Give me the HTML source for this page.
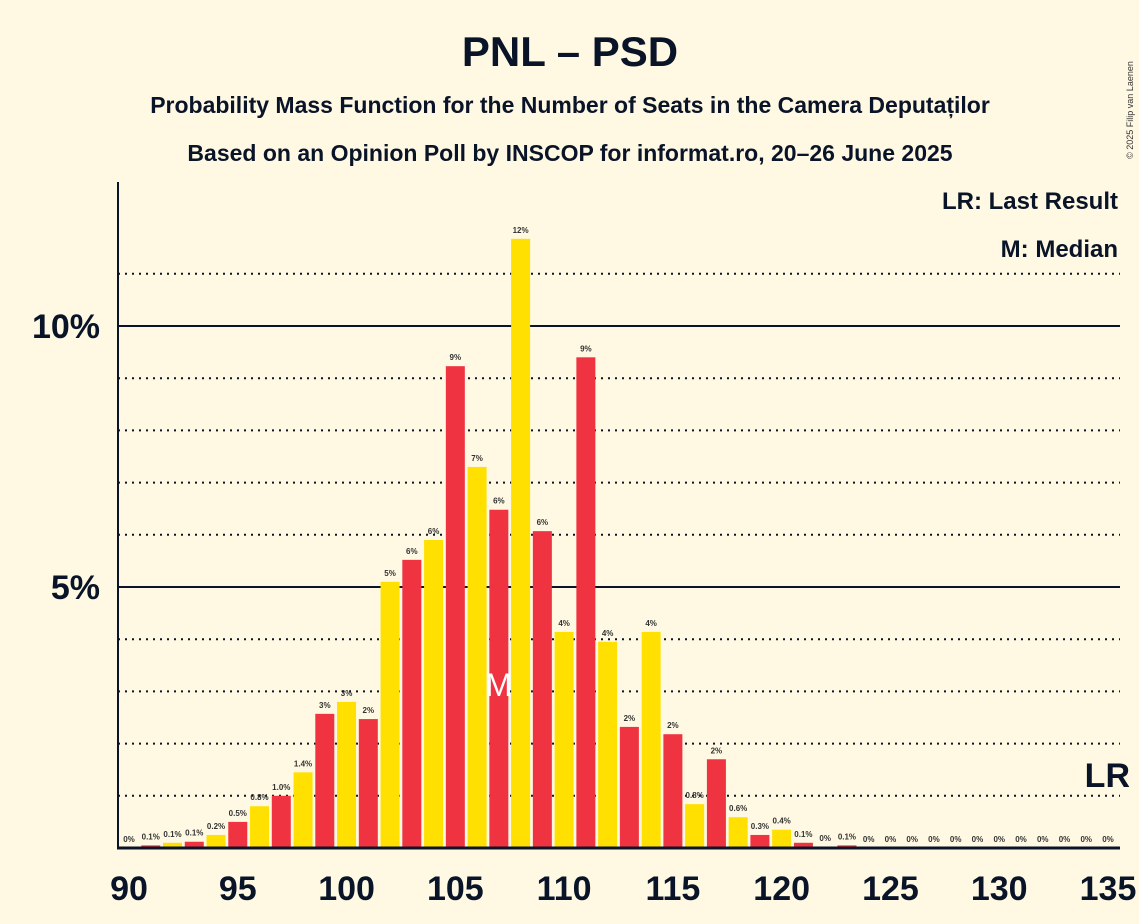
<!DOCTYPE html>
<html><head><meta charset="utf-8"><style>
body{margin:0;background:#FFF9E3;font-family:"Liberation Sans",sans-serif}
</style></head><body>
<svg width="1139" height="924" xmlns="http://www.w3.org/2000/svg" style="display:block">
<rect width="1139" height="924" fill="#FFF9E3"/>
<text x="570" y="66" text-anchor="middle" font-size="42" font-weight="bold" fill="#0a1428">PNL – PSD</text>
<text x="570" y="113" text-anchor="middle" font-size="23" font-weight="bold" fill="#0a1428">Probability Mass Function for the Number of Seats in the Camera Deputaților</text>
<text x="570" y="161" text-anchor="middle" font-size="23" font-weight="bold" fill="#0a1428">Based on an Opinion Poll by INSCOP for informat.ro, 20–26 June 2025</text>
<text x="1133" y="110" font-size="9" fill="#333" transform="rotate(-90 1133 110)" text-anchor="middle">© 2025 Filip van Laenen</text>
<text x="1118" y="209" text-anchor="end" font-size="24" font-weight="bold" fill="#0a1428">LR: Last Result</text>
<text x="1118" y="257" text-anchor="end" font-size="24" font-weight="bold" fill="#0a1428">M: Median</text>
<g id="grid"></g>
<g id="bars"></g>
<g id="labels"></g>
<line x1="118" y1="182" x2="118" y2="849" stroke="#0a1428" stroke-width="2"/>
<line x1="117" y1="848" x2="1120" y2="848" stroke="#0a1428" stroke-width="3"/>
<g id="ticks"></g>
</svg>
<script>
const seats=[90,91,92,93,94,95,96,97,98,99,100,101,102,103,104,105,106,107,108,109,110,111,112,113,114,115,116,117,118,119,120,121,122,123,124,125,126,127,128,129,130,131,132,133,134,135];
const probs=[0,0.05,0.1,0.12,0.25,0.5,0.8,1.0,1.45,2.57,2.8,2.47,5.1,5.52,5.9,9.23,7.3,6.48,11.67,6.07,4.14,9.4,3.95,2.32,4.14,2.18,0.84,1.7,0.59,0.25,0.35,0.1,0.02,0.05,0,0,0,0,0,0,0,0,0,0,0,0];
const printed=["0%","0.1%","0.1%","0.1%","0.2%","0.5%","0.8%","1.0%","1.4%","3%","3%","2%","5%","6%","6%","9%","7%","6%","12%","6%","4%","9%","4%","2%","4%","2%","0.8%","2%","0.6%","0.3%","0.4%","0.1%","0%","0.1%","0%","0%","0%","0%","0%","0%","0%","0%","0%","0%","0%","0%"];
const xTicks=[90,95,100,105,110,115,120,125,130,135];
const yTicks=[5,10];
const gridVals=[1,2,3,4,6,7,8,9,11];
const median=107, lastResult=135;
const NS="http://www.w3.org/2000/svg";
const X=s=>129+(s-90)*(1108-129)/45;
const Y=v=>848-v*52.2;
function mk(t,a,p){const e=document.createElementNS(NS,t);for(const k in a)e.setAttribute(k,a[k]);p.appendChild(e);return e;}
const grid=document.getElementById('grid');
gridVals.forEach(v=>{const l=mk('line',{x1:118,x2:1120,y1:Y(v),y2:Y(v),stroke:'#0a1428','stroke-width':2,'stroke-dasharray':'2,5'},grid);

});
yTicks.forEach(v=>{const l=mk('line',{x1:118,x2:1120,y1:Y(v),y2:Y(v),stroke:'#0a1428','stroke-width':2},grid);


const t=mk('text',{x:100,y:Y(v)+12,'text-anchor':'end','font-size':34,'font-weight':'bold',fill:'#0a1428'},grid);t.textContent=v+'%';

});
const bars=document.getElementById('bars'),labels=document.getElementById('labels');
seats.forEach((s,i)=>{const v=probs[i];const h=848-Y(v);
if(h>0){const r=mk('rect',{x:X(s)-9.5,y:Y(v),width:19,height:h,fill:s%2?'#EF3340':'#FFE000'},bars);

}
const t=mk('text',{x:X(s),y:Y(v)-6,'text-anchor':'middle','font-size':8,'font-weight':'bold',fill:'#333'},labels);t.textContent=printed[i];

});
const m=mk('text',{x:X(median),y:696,'text-anchor':'middle','font-size':32,fill:'#fff'},labels);m.textContent='M';


const lr=mk('text',{x:X(lastResult)+22,y:787,'text-anchor':'end','font-size':34,'font-weight':'bold',fill:'#0a1428'},labels);lr.textContent='LR';


const ticks=document.getElementById('ticks');
xTicks.forEach(s=>{const t=mk('text',{x:X(s),y:900,'text-anchor':'middle','font-size':34,'font-weight':'bold',fill:'#0a1428'},ticks);t.textContent=s;

});
</script>
</body></html>
